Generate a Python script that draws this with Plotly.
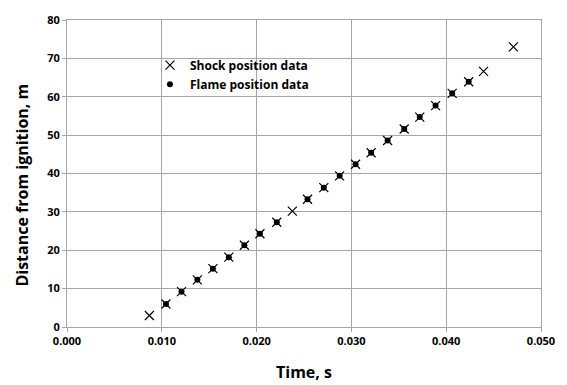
import plotly.graph_objects as go

shock_t = [0.00869, 0.01044, 0.01208, 0.01375, 0.01539, 0.01707, 0.01871, 0.02035, 0.02213,
           0.02377, 0.02537, 0.02709, 0.02876, 0.03044, 0.03208, 0.03382, 0.03557, 0.03721,
           0.03888, 0.04063, 0.04237, 0.04394, 0.04709]
shock_d = [3.0, 6.0, 9.2, 12.3, 15.2, 18.2, 21.3, 24.3, 27.3,
           30.2, 33.3, 36.3, 39.4, 42.4, 45.4, 48.6, 51.6, 54.7,
           57.7, 60.9, 63.9, 66.6, 73.0]
flame_t = [0.01044, 0.01208, 0.01375, 0.01539, 0.01707, 0.01871, 0.02035, 0.02213,
           0.02537, 0.02709, 0.02876, 0.03044, 0.03208, 0.03382, 0.03557, 0.03721,
           0.03888, 0.04063, 0.04237]
flame_d = [6.0, 9.2, 12.3, 15.2, 18.2, 21.3, 24.3, 27.3,
           33.3, 36.3, 39.4, 42.4, 45.4, 48.6, 51.6, 54.7,
           57.7, 60.9, 63.9]

x_ticks = [0.0, 0.01, 0.02, 0.03, 0.04, 0.05]
y_ticks = [0, 10, 20, 30, 40, 50, 60, 70, 80]
x_title = "Time, s"
y_title = "Distance from ignition, m"

FONT = "Open Sans"
grid = "#a6a6a6"

fig = go.Figure()
fig.add_trace(go.Scatter(x=shock_t, y=shock_d, mode="markers", name="Shock position data",
                         marker=dict(symbol="x-thin-open", size=9, color="black",
                                     line=dict(width=1.2, color="black"))))
fig.add_trace(go.Scatter(x=flame_t, y=flame_d, mode="markers", name="Flame position data",
                         marker=dict(symbol="circle", size=6, color="black")))

fig.update_layout(
    width=567, height=385,
    margin=dict(l=67, r=23, t=15, b=58),
    paper_bgcolor="white", plot_bgcolor="white",
    font=dict(family=FONT, size=12, color="black"),
    showlegend=True,
    legend=dict(x=0.175, y=0.90, xanchor="left", yanchor="top",
                bgcolor="rgba(0,0,0,0)", borderwidth=0,
                font=dict(family=FONT, size=12, color="black", weight="bold"),
                tracegroupgap=0),
    xaxis=dict(range=[0, 0.05], tickvals=x_ticks, tickformat=".3f",
               showgrid=True, gridcolor=grid, gridwidth=1,
               showline=True, linecolor=grid, linewidth=1, mirror=True,
               ticks="outside", ticklen=4, tickcolor=grid,
               zeroline=False,
               tickfont=dict(family=FONT, size=11, weight="bold")),
    yaxis=dict(range=[0, 80], tickvals=y_ticks,
               showgrid=True, gridcolor=grid, gridwidth=1,
               showline=True, linecolor=grid, linewidth=1, mirror=True,
               ticks="outside", ticklen=4, tickcolor=grid,
               zeroline=False,
               tickfont=dict(family=FONT, size=11, weight="bold")),
    annotations=[
        dict(text=x_title, xref="paper", yref="paper", x=0.5, y=-(373 - 327) / 312,
             xanchor="center", yanchor="middle", showarrow=False,
             font=dict(family=FONT, size=16, weight="bold")),
        dict(text=y_title, xref="paper", yref="paper", x=-(67 - 22) / 477, y=(327 - 183) / 312,
             xanchor="center", yanchor="middle", showarrow=False, textangle=-90,
             font=dict(family=FONT, size=16, weight="bold")),
    ],
)

fig.write_html("out.html")
